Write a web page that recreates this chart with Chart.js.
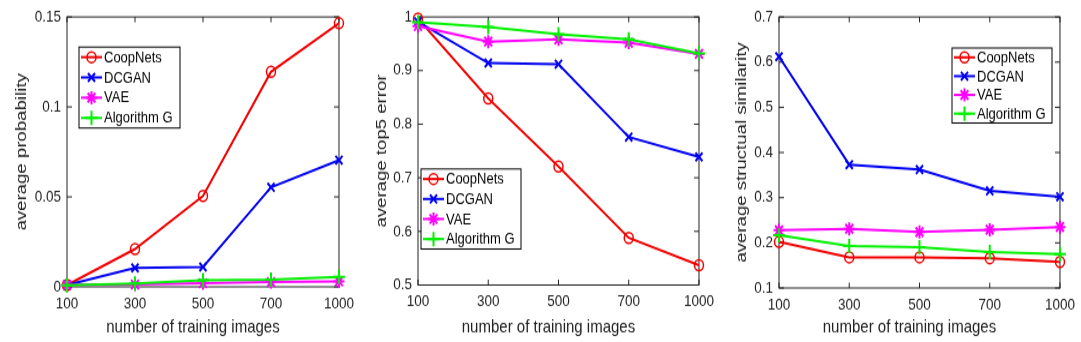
<!DOCTYPE html>
<html>
<head>
<meta charset="utf-8">
<script src="https://cdn.jsdelivr.net/npm/chart.js@4"></script>
<style>
  body { margin: 0; background: #fff; width: 1081px; height: 342px; overflow: hidden; position: relative; }
  /* figures are drawn a bit shorter and stretched vertically, like the exported plots */
  .panel { position: absolute; top: 0; height: 285px; transform: scaleY(1.2); transform-origin: 0 0; }
</style>
</head>
<body>
<div class="panel" style="left:0;width:360px"><canvas id="probChart" width="360" height="285"></canvas></div>
<div class="panel" style="left:360px;width:360px"><canvas id="errChart" width="360" height="285"></canvas></div>
<div class="panel" style="left:720px;width:361px"><canvas id="ssimChart" width="361" height="285"></canvas></div>
<script>
const trainingSizes = ["100", "300", "500", "700", "1000"];
const methodNames = ["CoopNets", "DCGAN", "VAE", "Algorithm G"];
const xTitle = "number of training images";

// average probability
const probCoopNets = [0.001, 0.021, 0.0505, 0.1195, 0.1465];
const probDCGAN = [0.001, 0.0105, 0.011, 0.0553, 0.0704];
const probVAE = [0.001, 0.0013, 0.002, 0.0026, 0.003];
const probAlgG = [0.0008, 0.0018, 0.0037, 0.004, 0.0055];
const probTicks = [0, 0.05, 0.1, 0.15];

// average top5 error
const errCoopNets = [0.997, 0.848, 0.721, 0.588, 0.537];
const errDCGAN = [0.991, 0.914, 0.912, 0.776, 0.739];
const errVAE = [0.983, 0.954, 0.958, 0.952, 0.931];
const errAlgG = [0.99, 0.981, 0.968, 0.958, 0.932];
const errTicks = [0.5, 0.6, 0.7, 0.8, 0.9, 1];

// average structual similarity
const ssimCoopNets = [0.202, 0.168, 0.168, 0.166, 0.158];
const ssimDCGAN = [0.612, 0.373, 0.362, 0.315, 0.302];
const ssimVAE = [0.228, 0.231, 0.224, 0.229, 0.235];
const ssimAlgG = [0.217, 0.193, 0.19, 0.18, 0.175];
const ssimTicks = [0.1, 0.2, 0.3, 0.4, 0.5, 0.6, 0.7];

const FONT = '"Liberation Sans", Arial, sans-serif';
const AXIS_COLOR = "#222";
Chart.defaults.font.family = FONT;
Chart.defaults.color = AXIS_COLOR;

const styles = [
  { color: "#f00000", pointStyle: "circle", radius: 4.5, pw: 1.5 },
  { color: "#0000f0", pointStyle: "crossRot", radius: 5, pw: 2 },
  { color: "#ff00ff", pointStyle: "star", radius: 5.5, pw: 2 },
  { color: "#00f000", pointStyle: "cross", radius: 6, pw: 2 },
];

// axes box with inward tick marks on all four sides, plus the x label
const boxTicks = {
  id: "boxTicks",
  beforeDatasetsDraw(chart) {
    const { ctx, chartArea: a, scales } = chart;
    ctx.save();
    ctx.strokeStyle = AXIS_COLOR;
    ctx.lineWidth = 1;
    ctx.strokeRect(a.left, a.top, a.right - a.left, a.bottom - a.top);
    ctx.beginPath();
    scales.x.ticks.forEach((t, i) => {
      const px = scales.x.getPixelForTick(i);
      ctx.moveTo(px, a.bottom); ctx.lineTo(px, a.bottom - 4.5);
      ctx.moveTo(px, a.top); ctx.lineTo(px, a.top + 4.5);
    });
    scales.y.ticks.forEach(t => {
      const py = scales.y.getPixelForValue(t.value);
      ctx.moveTo(a.left, py); ctx.lineTo(a.left + 5, py);
      ctx.moveTo(a.right, py); ctx.lineTo(a.right - 5, py);
    });
    ctx.stroke();

    // x label sits a little left of the axis centre
    ctx.fillStyle = AXIS_COLOR;
    ctx.font = "15px " + FONT;
    ctx.textAlign = "center";
    ctx.textBaseline = "middle";
    ctx.fillText(xTitle, (a.left + a.right) / 2 - 10, chart.height - 11.7);
    ctx.restore();
  },
};

// legend box placed inside the plot
const boxLegend = {
  id: "boxLegend",
  afterDraw(chart, args, opts) {
    const { ctx } = chart;
    ctx.save();
    ctx.fillStyle = "#fff";
    ctx.fillRect(opts.left, opts.top, opts.width, opts.height);
    ctx.strokeStyle = "#000";
    ctx.lineWidth = 1;
    ctx.strokeRect(opts.left, opts.top, opts.width, opts.height);
    const rowH = opts.height / methodNames.length;
    methodNames.forEach((name, i) => {
      const st = styles[i];
      const cy = opts.top + rowH * (i + 0.5);
      ctx.strokeStyle = st.color;
      ctx.lineWidth = 2;
      ctx.beginPath();
      ctx.moveTo(opts.left + 2, cy);
      ctx.lineTo(opts.left + 23, cy);
      ctx.stroke();
      ctx.fillStyle = "rgba(0,0,0,0)";
      ctx.lineWidth = st.pw;
      Chart.helpers.drawPoint(ctx, { pointStyle: st.pointStyle, radius: st.radius, borderWidth: st.pw, rotation: 0 }, opts.left + 12.5, cy);
      ctx.fillStyle = "#000";
      ctx.font = "13px " + FONT;
      ctx.textBaseline = "middle";
      ctx.fillText(name, opts.left + 25, cy + 0.5);
    });
    ctx.restore();
  },
};

function drawPanel(id, area, yTitle, yTicks, series, legendBox) {
  new Chart(document.getElementById(id), {
    type: "line",
    data: {
      labels: trainingSizes,
      datasets: series.map((values, i) => ({
        label: methodNames[i],
        data: values,
        borderColor: styles[i].color,
        borderWidth: 2,
        pointStyle: styles[i].pointStyle,
        pointRadius: styles[i].radius,
        pointBorderWidth: styles[i].pw,
        pointBorderColor: styles[i].color,
        pointBackgroundColor: "rgba(0,0,0,0)",
        order: series.length - 1 - i,
        clip: false,
      })),
    },
    options: {
      responsive: false,
      animation: false,
      events: [],
      layout: { padding: { top: area.top, right: area.right, left: 0, bottom: 0 } },
      plugins: {
        legend: { display: false },
        tooltip: { enabled: false },
        boxLegend: legendBox,
      },
      scales: {
        x: {
          offset: false,
          grid: { display: false, drawTicks: false },
          border: { display: false },
          ticks: { autoSkip: false, maxRotation: 0, padding: 6, font: { size: 13.5 }, color: AXIS_COLOR },
          afterFit: s => { s.height = area.xHeight; },
        },
        y: {
          min: yTicks[0],
          max: yTicks[yTicks.length - 1],
          grid: { display: false, drawTicks: false },
          border: { display: false },
          afterBuildTicks: s => { s.ticks = yTicks.map(v => ({ value: v })); },
          ticks: { padding: 6, font: { size: 13.5 }, color: AXIS_COLOR, callback: v => String(+v.toFixed(3)) },
          title: { display: true, text: yTitle, font: { size: 15.5 }, padding: { top: 12, bottom: 0 }, color: AXIS_COLOR },
          afterFit: s => { s.width = area.yWidth; },
        },
      },
    },
    plugins: [boxTicks, boxLegend],
  });
}

drawPanel("probChart", { top: 13.3, right: 20, yWidth: 67, xHeight: 46 },
  "average probability", probTicks,
  [probCoopNets, probDCGAN, probVAE, probAlgG],
  { left: 79, top: 39.2, width: 101, height: 67.5 });

drawPanel("errChart", { top: 12.5, right: 21, yWidth: 58, xHeight: 47.5 },
  "average top5 error", errTicks,
  [errCoopNets, errDCGAN, errVAE, errAlgG],
  { left: 61, top: 140.8, width: 100, height: 66.7 });

drawPanel("ssimChart", { top: 11.7, right: 20, yWidth: 59, xHeight: 45 },
  "average structual similarity", ssimTicks,
  [ssimCoopNets, ssimDCGAN, ssimVAE, ssimAlgG],
  { left: 232, top: 40, width: 100, height: 62.5 });
</script>
</body>
</html>
